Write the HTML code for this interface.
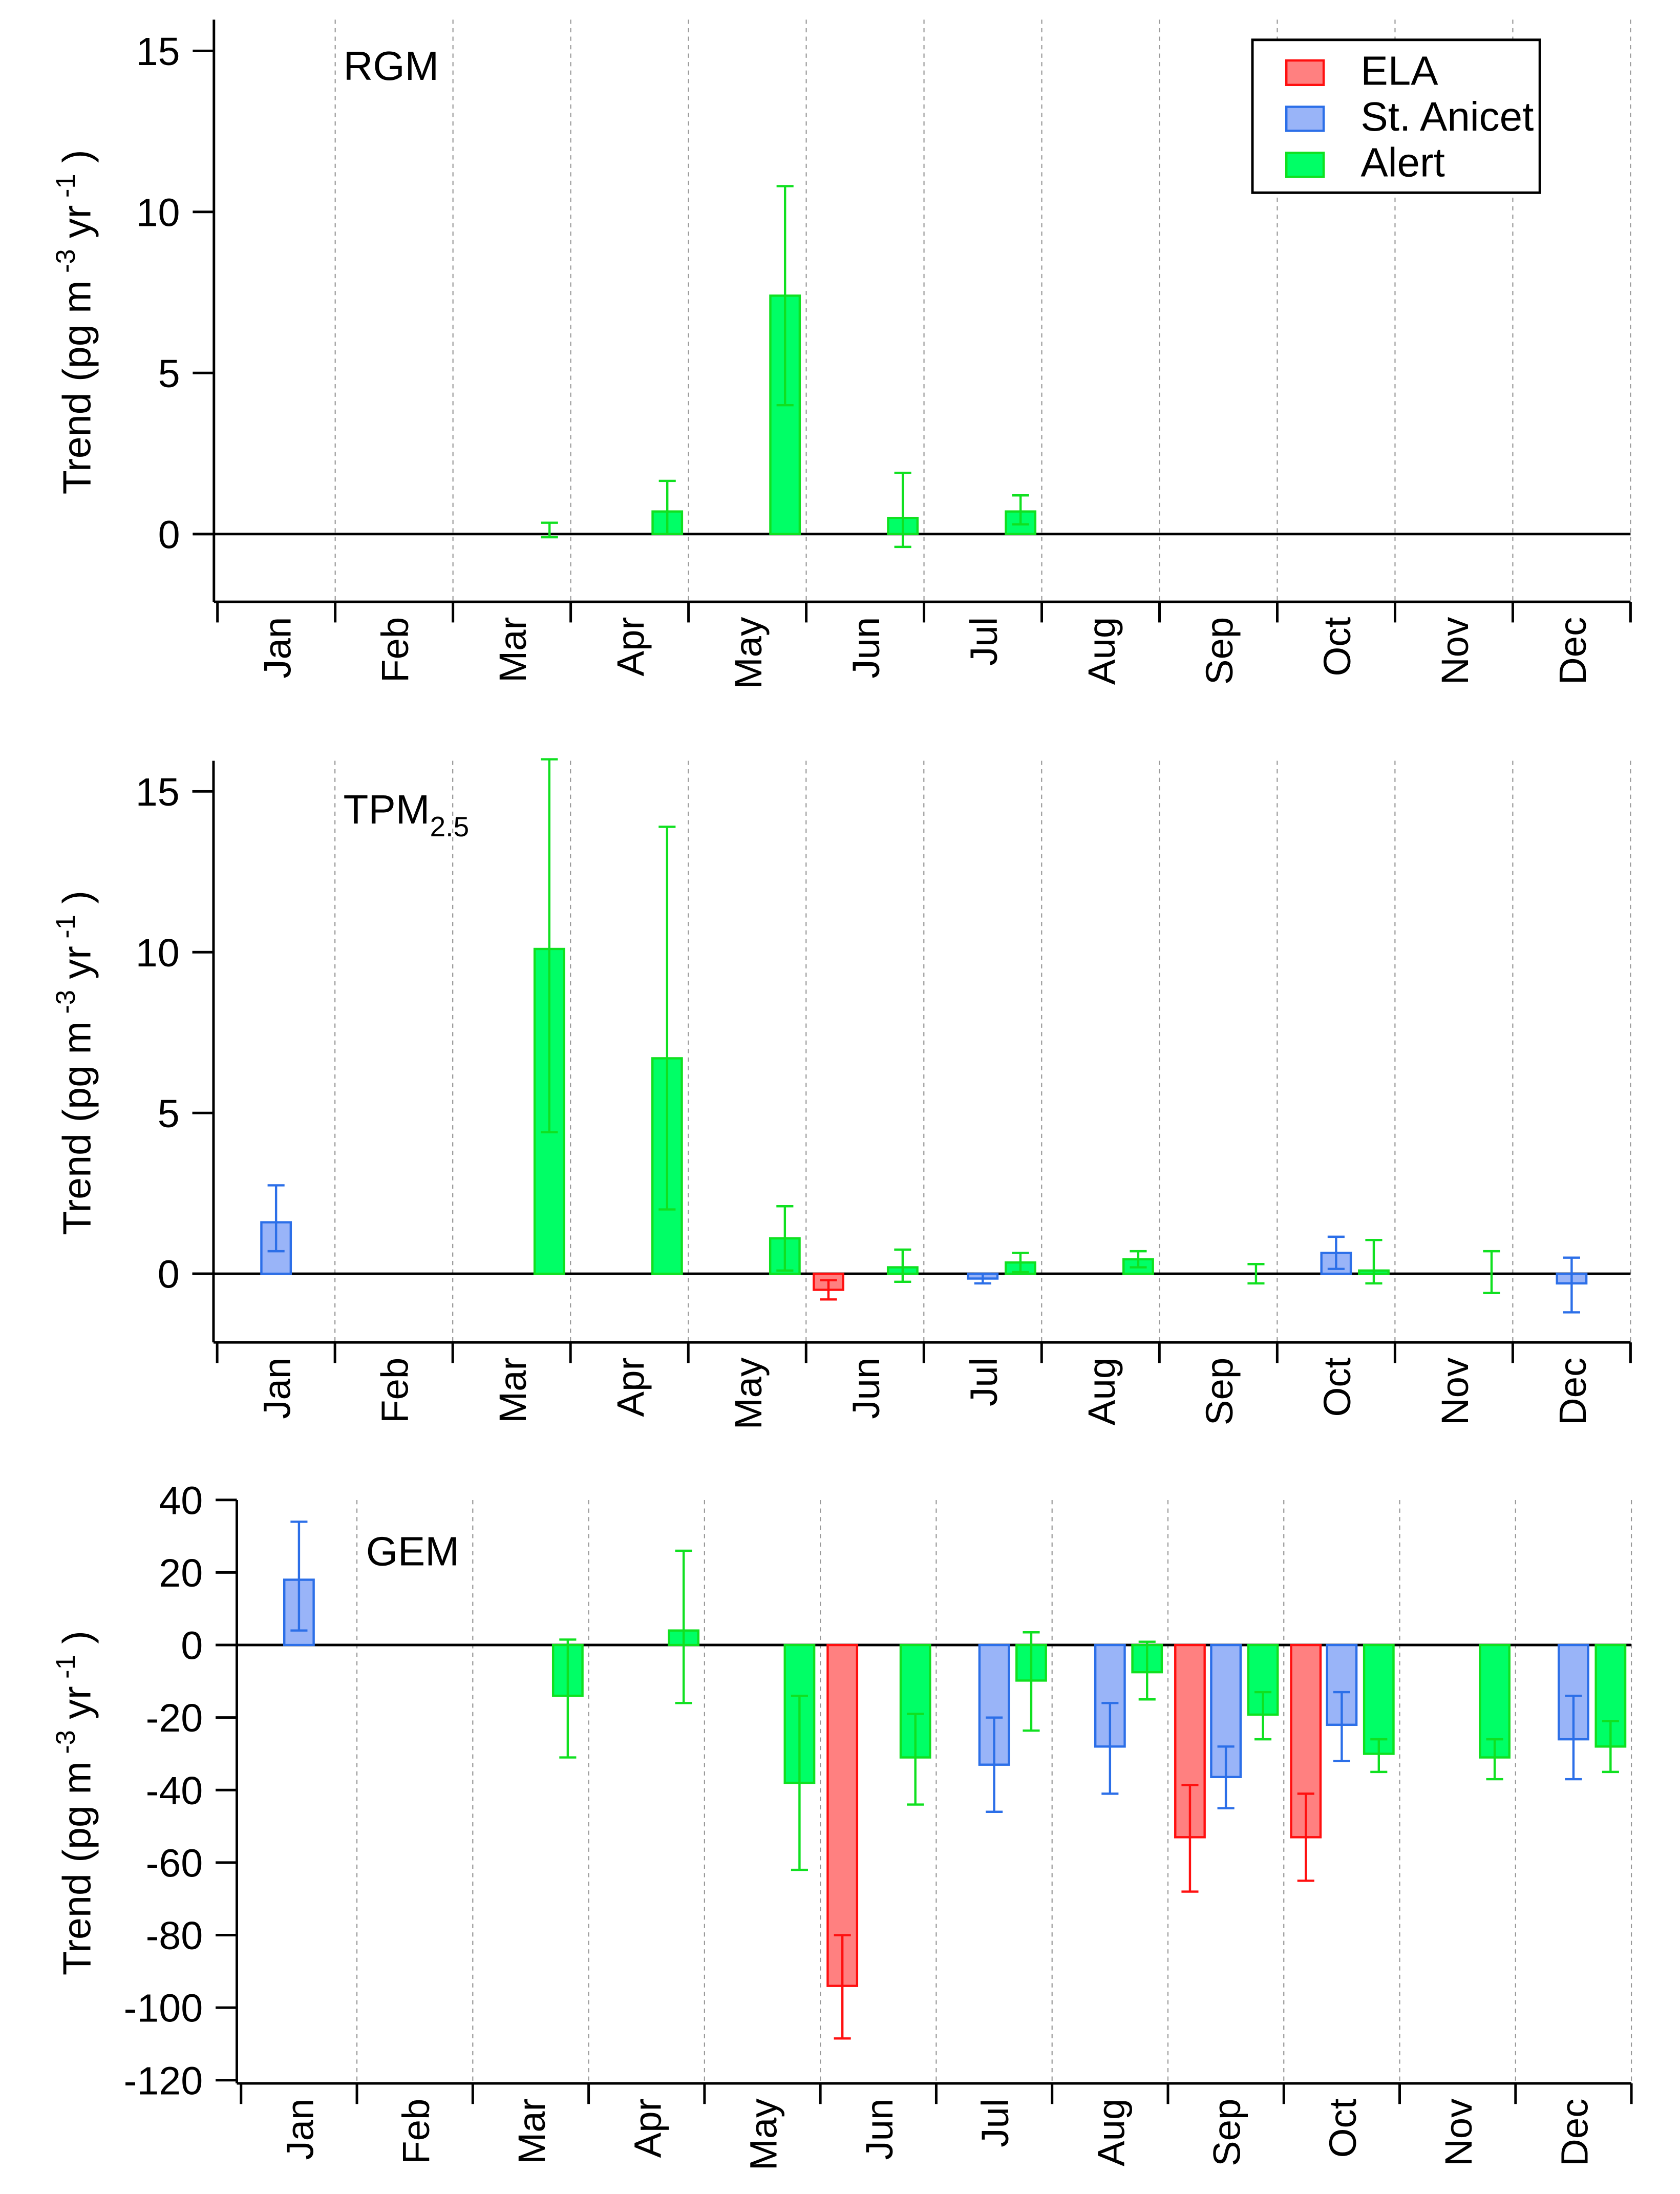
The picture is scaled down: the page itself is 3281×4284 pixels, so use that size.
<!DOCTYPE html>
<html><head><meta charset="utf-8"><style>
html,body{margin:0;padding:0;background:#fff}
svg{display:block}
text{font-family:"Liberation Sans",Arial,sans-serif;fill:#000}
</style></head><body>
<svg id="chart" width="3281" height="4284" viewBox="0 0 1189 1553" preserveAspectRatio="none" xmlns="http://www.w3.org/2000/svg">
<g id="legend">
<rect x="886.4" y="28.2" width="203.4" height="108.2" fill="#fff" stroke="#000" stroke-width="1.8"/>
<rect x="910.4" y="42.8" width="26.4" height="17.3" fill="#ff8080" stroke="#ff1010" stroke-width="1.6"/>
<text x="963" y="60" font-size="29">ELA</text>
<rect x="910.4" y="75.6" width="26.4" height="17" fill="#99b4f8" stroke="#2c6fe8" stroke-width="1.6"/>
<text x="963" y="92.5" font-size="29">St. Anicet</text>
<rect x="910.4" y="108.2" width="26.4" height="17" fill="#00ff66" stroke="#10e020" stroke-width="1.6"/>
<text x="963" y="124.8" font-size="29">Alert</text>
</g>
</svg>
<script>
const months=["Jan","Feb","Mar","Apr","May","Jun","Jul","Aug","Sep","Oct","Nov","Dec"];
const stations=["ELA","St. Anicet","Alert"];
// [station index, month index, value, low, high]
const rgmData=[[2,2,0.0,-0.1,0.35],[2,3,0.7,0.0,1.65],[2,4,7.4,4.0,10.8],[2,5,0.5,-0.4,1.9],[2,6,0.7,0.3,1.2]];
const tpmData=[[1,0,1.6,0.7,2.75],[2,2,10.1,4.4,16],[2,3,6.7,2.0,13.9],[2,4,1.1,0.1,2.1],[0,5,-0.5,-0.8,-0.2],[2,5,0.2,-0.25,0.75],[1,6,-0.15,-0.3,0.0],[2,6,0.35,0.05,0.65],[2,7,0.45,0.2,0.7],[2,8,0.0,-0.3,0.3],[1,9,0.65,0.15,1.15],[2,9,0.1,-0.3,1.05],[2,10,0.0,-0.6,0.7],[1,11,-0.3,-1.2,0.5]];
const gemData=[[1,0,18,4,34],[2,2,-14,-31,1.5],[2,3,4,-16,26],[2,4,-38,-62,-14],[0,5,-94,-108.5,-80],[2,5,-31,-44,-19],[1,6,-33,-46,-20],[2,6,-9.8,-23.6,3.5],[1,7,-28,-41,-16],[2,7,-7.5,-15,0.9],[0,8,-53,-68,-38.6],[1,8,-36.4,-45,-28],[2,8,-19.2,-26,-13],[0,9,-53,-65,-41],[1,9,-22,-32,-13],[2,9,-30,-35,-26],[2,10,-31,-37,-26],[1,11,-26,-37,-14],[2,11,-28,-35,-21]];
const rgmTicks=[0,5,10,15], tpmTicks=[0,5,10,15], gemTicks=[40,20,0,-20,-40,-60,-80,-100,-120];
const fills=["#ff8080","#99b4f8","#00ff66"], strokes=["#ff1010","#2c6fe8","#10e020"];
const svg=document.getElementById('chart'), NS="http://www.w3.org/2000/svg";
function mk(tag,attrs,parent){const e=document.createElementNS(NS,tag);for(const k in attrs)e.setAttribute(k,attrs[k]);(parent||svg).appendChild(e);return e;}
const panels=[
 {name:"rgm",label:"RGM",sub:"",data:rgmData,ticks:rgmTicks,x0:153.9,x1:1154,top:13.9,bottom:426,v0y:378,ppu:22.8,ax:151.4,lx:243,ly:56.6},
 {name:"tpm",label:"TPM",sub:"2.5",data:tpmData,ticks:tpmTicks,x0:153.7,x1:1154,top:538.5,bottom:950.2,v0y:901.6,ppu:22.76,ax:151.1,lx:243,ly:583},
 {name:"gem",label:"GEM",sub:"",data:gemData,ticks:gemTicks,x0:170.6,x1:1154.6,top:1061.8,bottom:1474.7,v0y:1164.4,ppu:2.567,ax:167.6,lx:259,ly:1108}
];
const offs=[0.19,0.5,0.82], bw=20.8;
panels.forEach(p=>{
 const g=mk('g',{});
 
 
 const mw=(p.x1-p.x0)/12;
 const y=v=>p.v0y-v*p.ppu;
 const xm=i=>p.x0+i*mw;
 for(let i=1;i<=12;i++){const l=mk('line',{x1:xm(i),x2:xm(i),y1:p.top,y2:p.bottom,stroke:"#999","stroke-width":0.8,"stroke-dasharray":"3,3"},g);
  }
 const z=mk('line',{x1:p.ax-15,x2:p.x1,y1:y(0),y2:y(0),stroke:"#000","stroke-width":1.8},g);
 
 const ya=mk('line',{x1:p.ax,x2:p.ax,y1:p.top,y2:p.bottom,stroke:"#000","stroke-width":1.8},g);
 
 p.ticks.forEach(t=>{mk('line',{x1:p.ax-15,x2:p.ax,y1:y(t),y2:y(t),stroke:"#000","stroke-width":1.8},g);
  const tx=mk('text',{x:p.ax-24,y:y(t)+10,"font-size":28,"text-anchor":"end"},g);tx.textContent=t;
  });
 const xa=mk('line',{x1:p.ax,x2:p.x1,y1:p.bottom,y2:p.bottom,stroke:"#000","stroke-width":1.8},g);
 
 for(let i=0;i<=12;i++)mk('line',{x1:xm(i),x2:xm(i),y1:p.bottom,y2:p.bottom+14.6,stroke:"#000","stroke-width":1.8},g);
 months.forEach((m,i)=>{const cx=xm(i)+mw/2+10, cy=p.bottom+10.7;
  const t=mk('text',{x:cx,y:cy,"font-size":27,"text-anchor":"end",transform:`rotate(-90 ${cx} ${cy})`},g);t.textContent=m;
  });
 const ty=(p.top+p.bottom)/2+8;
 const tt=mk('text',{x:64,y:ty,"font-size":28,"text-anchor":"middle",transform:`rotate(-90 64 ${ty})`},g);
 
 tt.innerHTML='Trend (pg m<tspan dy="-11" font-size="19"> -3</tspan><tspan dy="11"> yr</tspan><tspan dy="-11" font-size="19"> -1</tspan><tspan dy="11"> )</tspan>';
 const pl=mk('text',{x:p.lx,y:p.ly,"font-size":29},g);
 
 pl.innerHTML=p.label+(p.sub?'<tspan dy="9" font-size="20">'+p.sub+'</tspan>':'');
 p.data.forEach(d=>{const [s,m,v,lo,hi]=d;const cx=xm(m)+mw*offs[s];
  const b=mk('rect',{x:cx-bw/2,y:Math.min(y(v),y(0)),width:bw,height:Math.abs(y(v)-y(0)),fill:fills[s],stroke:strokes[s],"stroke-width":1.6},g);
  
  
  const e=mk('path',{d:`M${cx},${y(lo)}V${y(hi)}M${cx-6},${y(lo)}H${cx+6}M${cx-6},${y(hi)}H${cx+6}`,stroke:strokes[s],"stroke-width":1.6,fill:"none"},g);
  
  });
});
svg.appendChild(document.getElementById('legend'));
</script>
</body></html>
